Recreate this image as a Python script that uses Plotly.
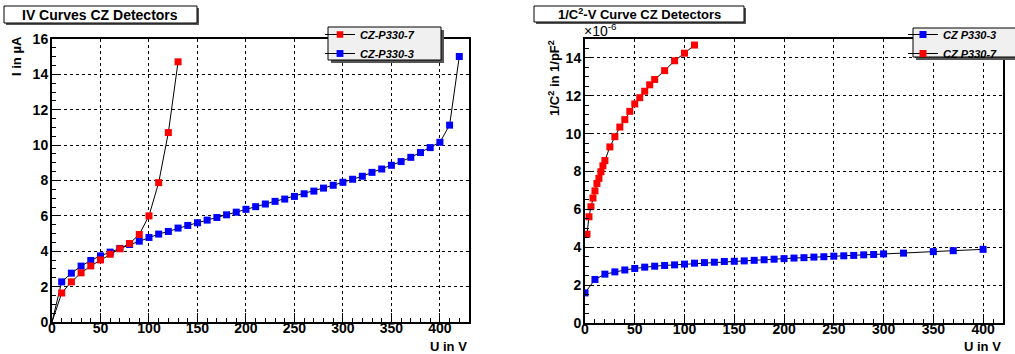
import plotly.graph_objects as go

# ---------------- data ----------------
iv_voltage_p330_7 = [0, 10, 20, 30, 40, 50, 60, 70, 80, 90, 100, 110, 120, 130]
iv_current_p330_7 = [0, 1.64, 2.27, 2.78, 3.17, 3.51, 3.83, 4.14, 4.44, 4.95, 6.0, 7.88, 10.71, 14.71]

iv_voltage_p330_3 = list(range(0, 430, 10))
iv_current_p330_3 = [0, 2.27, 2.76, 3.16, 3.48, 3.74, 3.95, 4.16, 4.38, 4.57, 4.78, 4.97, 5.12,
                     5.31, 5.46, 5.61, 5.76, 5.91, 6.06, 6.21, 6.37, 6.52, 6.67, 6.82, 6.95,
                     7.10, 7.25, 7.40, 7.57, 7.73, 7.90, 8.07, 8.24, 8.46, 8.65, 8.86, 9.07,
                     9.31, 9.58, 9.86, 10.16, 11.13, 15.01]

cv_voltage_p330_3 = list(range(0, 310, 10)) + [320, 350, 370, 400]
cv_invc2_p330_3_e6 = [1.59, 2.30, 2.58, 2.70, 2.80, 2.88, 2.95, 3.00, 3.04, 3.07, 3.11, 3.16,
                      3.19, 3.21, 3.25, 3.26, 3.28, 3.31, 3.34, 3.37, 3.40, 3.43, 3.45, 3.48,
                      3.50, 3.53, 3.55, 3.57, 3.60, 3.62, 3.65, 3.69, 3.77, 3.82, 3.89]

cv_voltage_p330_7 = [2, 4, 6, 8, 10, 12, 14, 16, 18, 20, 25, 30, 35, 40, 45, 50, 55, 60, 65,
                     70, 80, 90, 100, 110]
cv_invc2_p330_7_e6 = [4.69, 5.61, 6.14, 6.60, 6.98, 7.37, 7.64, 7.99, 8.30, 8.58, 9.30, 9.84,
                      10.35, 10.74, 11.18, 11.57, 11.90, 12.24, 12.58, 12.86, 13.33, 13.85,
                      14.25, 14.68]

iv_title = "IV Curves CZ Detectors"
cv_title = "1/C<sup>2</sup>-V Curve CZ Detectors"

# ---------------- figure ----------------
W, H = 1015, 354
FONT = "Liberation Sans, Arial, Helvetica, sans-serif"
RED, BLUE = "#ff0000", "#0000ff"


def px(x):
    return x / W


def py(y):
    return 1 - y / H


def msizes(xs, ys, s=7):
    return [0 if (a == 0 and b == 0) else s for a, b in zip(xs, ys)]


def marker(color, size):
    return dict(symbol="square", color=color, size=size, opacity=1,
                line=dict(width=0, color=color))


fig = go.Figure()

# Left panel: IV
fig.add_trace(go.Scatter(x=iv_voltage_p330_3, y=iv_current_p330_3, mode="lines+markers",
                         name="CZ-P330-3", legend="legend",
                         line=dict(color="black", width=1),
                         marker=marker(BLUE, msizes(iv_voltage_p330_3, iv_current_p330_3)),
                         xaxis="x", yaxis="y"))
fig.add_trace(go.Scatter(x=iv_voltage_p330_7, y=iv_current_p330_7, mode="lines+markers",
                         name="CZ-P330-7", legend="legend",
                         line=dict(color="black", width=1),
                         marker=marker(RED, msizes(iv_voltage_p330_7, iv_current_p330_7)),
                         xaxis="x", yaxis="y"))

# Right panel: 1/C^2 - V
fig.add_trace(go.Scatter(x=cv_voltage_p330_3, y=cv_invc2_p330_3_e6, mode="lines+markers",
                         name="CZ P330-3", legend="legend2",
                         line=dict(color="black", width=1),
                         marker=marker(BLUE, 7),
                         xaxis="x2", yaxis="y2"))
fig.add_trace(go.Scatter(x=cv_voltage_p330_7, y=cv_invc2_p330_7_e6, mode="lines+markers",
                         name="CZ P330-7", legend="legend2",
                         line=dict(color="black", width=1),
                         marker=marker(RED, 7),
                         xaxis="x2", yaxis="y2"))

tickfont = dict(family=FONT, size=14, color="black", weight="bold")


def xax(dom, rng):
    return dict(domain=dom, range=rng, dtick=50, tick0=0, ticks="inside", ticklen=9,
                tickwidth=1, tickcolor="black", showline=True, linecolor="black",
                linewidth=2, mirror=True, showgrid=True, gridcolor="black", gridwidth=1,
                griddash="dot", zeroline=False, tickfont=tickfont, ticklabelstandoff=-8,
                minor=dict(dtick=10, ticks="inside", ticklen=4, tickcolor="black",
                           tickwidth=1, showgrid=False))


def yax(dom, rng, anchor):
    return dict(domain=dom, range=rng, dtick=2, tick0=0, ticks="inside", ticklen=9,
                tickwidth=1, tickcolor="black", showline=True, linecolor="black",
                linewidth=2, mirror=True, showgrid=True, gridcolor="black", gridwidth=1,
                griddash="dot", zeroline=False, tickfont=tickfont, anchor=anchor,
                ticklabelstandoff=-1,
                minor=dict(dtick=0.5, ticks="inside", ticklen=4, tickcolor="black",
                           tickwidth=1, showgrid=False))


legfont = dict(family=FONT, size=11, color="black", style="italic", weight="bold")

fig.update_layout(
    width=W, height=H,
    margin=dict(l=0, r=0, t=0, b=0, autoexpand=False),
    paper_bgcolor="white", plot_bgcolor="white",
    xaxis=xax([px(52), px(469)], [0, 430]) | dict(anchor="y"),
    yaxis=yax([py(322), py(39)], [0, 16], "x"),
    xaxis2=xax([px(585), px(1003)], [0, 420]) | dict(anchor="y2"),
    yaxis2=yax([py(323), py(39)], [0, 15], "x2"),
    legend=dict(x=px(320), y=py(20), xanchor="left", yanchor="top",
                bgcolor="rgba(0,0,0,0)", borderwidth=0, itemwidth=30,
                traceorder="reversed", tracegroupgap=0, font=legfont),
    legend2=dict(x=px(903), y=py(20), xanchor="left", yanchor="top",
                 bgcolor="rgba(0,0,0,0)", borderwidth=0, itemwidth=30,
                 traceorder="normal", tracegroupgap=0, font=legfont),
    showlegend=True,
)

shapes = []


def box(x0, y0, x1, y1, fill, sh=2, shcol="#555555"):
    shapes.append(dict(type="rect", xref="paper", yref="paper",
                       x0=px(x0 + sh), x1=px(x1 + sh), y0=py(y0 + sh), y1=py(y1 + sh),
                       fillcolor=shcol, line=dict(width=0), layer="above"))
    shapes.append(dict(type="rect", xref="paper", yref="paper",
                       x0=px(x0), x1=px(x1), y0=py(y0), y1=py(y1),
                       fillcolor=fill, line=dict(color="black", width=1), layer="above"))


box(4, 6, 197, 23, "white")
box(534, 6, 744, 22, "white")
box(328, 27, 441, 60, "#f0f0f0", sh=3)
box(913, 28, 1030, 57, "#f0f0f0", sh=3)
fig.update_layout(shapes=shapes)

afont = dict(family=FONT, size=13, color="black", weight="bold")
annotations = [
    dict(text=iv_title, x=px(100), y=py(15), xref="paper", yref="paper",
         xanchor="center", yanchor="middle", showarrow=False,
         font=dict(family=FONT, size=14, color="black", weight="bold")),
    dict(text=cv_title, x=px(639), y=py(14), xref="paper", yref="paper",
         xanchor="center", yanchor="middle", showarrow=False,
         font=dict(family=FONT, size=13, color="black", weight="bold")),
    dict(text="I in µA", x=px(17), y=py(56), xref="paper", yref="paper", textangle=-90,
         xanchor="center", yanchor="middle", showarrow=False, font=afont),
    dict(text="1/C<sup>2</sup> in 1/pF<sup>2</sup>", x=px(554), y=py(78), xref="paper",
         yref="paper", textangle=-90, xanchor="center", yanchor="middle", showarrow=False,
         font=afont),
    dict(text="U in V", x=px(469), y=py(346), xref="paper", yref="paper",
         xanchor="right", yanchor="middle", showarrow=False, font=afont),
    dict(text="U in V", x=px(1003), y=py(346), xref="paper", yref="paper",
         xanchor="right", yanchor="middle", showarrow=False, font=afont),
    dict(text="×10<sup>-6</sup>", x=px(582), y=py(30), xref="paper", yref="paper",
         xanchor="left", yanchor="middle", showarrow=False,
         font=dict(family=FONT, size=14, color="black")),
]
fig.update_layout(annotations=annotations)

fig.write_html("out.html")
